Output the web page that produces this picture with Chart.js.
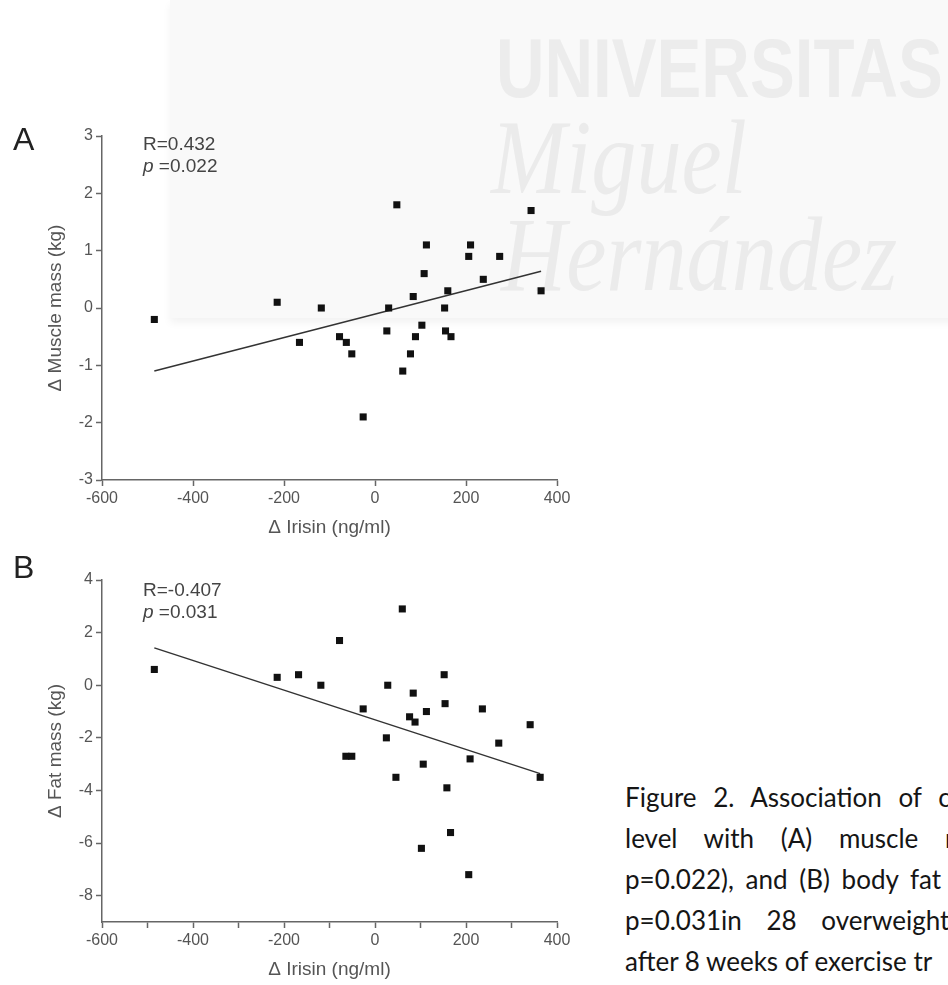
<!DOCTYPE html>
<html>
<head>
<meta charset="utf-8">
<script src="https://cdn.jsdelivr.net/npm/chart.js@4.4.1/dist/chart.umd.min.js"></script>
<style>
  html, body { margin: 0; padding: 0; background: #fff; }
  body { width: 948px; height: 985px; position: relative; overflow: hidden; font-family: 'Liberation Sans', Arial, sans-serif; }
  .abs { position: absolute; white-space: nowrap; }
  /* faint watermark behind the charts */
  .band { left: 170px; top: 0; width: 800px; height: 318px; background: #f9f9f9; box-shadow: 0 5px 8px rgba(0,0,0,0.05); }
  .wm-univ { left: 496px; top: 26px; font: bold 84px 'Liberation Sans', sans-serif; line-height: 1; color: #ececec; transform: scaleX(0.8); transform-origin: left top; }
  .wm-serif { font-family: 'Liberation Serif', serif; font-style: italic; font-size: 105px; line-height: 1; color: #ebebeb; transform: scaleX(0.86); transform-origin: left top; }
  .panel { position: absolute; left: 0; width: 600px; }
  .letter { font-size: 32px; line-height: 1; color: #222; }
  .stat { font-size: 19px; line-height: 22px; color: #444; }
  .caption { left: 625px; font-family: Lato, 'Open Sans', sans-serif; font-size: 26px; line-height: 41px; color: #151515; }
</style>
</head>
<body>
<div class="abs band"></div>
<div class="abs wm-univ">UNIVERSITAS</div>
<div class="abs wm-serif" style="left:491px; top:105px;">Miguel</div>
<div class="abs wm-serif" style="left:501px; top:202px;">Hernández</div>

<div class="panel" style="top:100px; height:443px;"><canvas id="chartA"></canvas></div>
<div class="panel" style="top:540px; height:445px;"><canvas id="chartB"></canvas></div>

<div class="abs letter" style="left:13px; top:123px;">A</div>
<div class="abs stat" style="left:143px; top:133px;">R=0.432<br><i>p</i> =0.022</div>
<div class="abs letter" style="left:13px; top:551px;">B</div>
<div class="abs stat" style="left:143px; top:579px;">R=-0.407<br><i>p</i> =0.031</div>

<div class="abs caption" style="top:777px;">
  <div style="word-spacing:10px;">Figure 2. Association of c</div>
  <div style="word-spacing:20px;">level with (A) muscle m</div>
  <div style="word-spacing:5px;">p=0.022), and (B) body fat</div>
  <div style="word-spacing:18px;">p=0.031in 28 overweight</div>
  <div>after 8 weeks of exercise tr</div>
</div>

<script>
// A: change in irisin vs change in muscle mass
const irisinA = [-485, -215, -166, -118, -78, -63, -51, -26, 26, 30, 48, 61, 78, 84,
                 89, 103, 108, 113, 153, 155, 160, 167, 206, 210, 238, 274, 343, 365];
const muscleA = [-0.2, 0.1, -0.6, 0.0, -0.5, -0.6, -0.8, -1.9, -0.4, 0.0, 1.8, -1.1, -0.8, 0.2,
                 -0.5, -0.3, 0.6, 1.1, 0.0, -0.4, 0.3, -0.5, 0.9, 1.1, 0.5, 0.9, 1.7, 0.3];
const fitXA = [-485, 365];
const fitYA = [-1.1, 0.64];

// B: change in irisin vs change in fat mass
const irisinB = [-485, -215, -168, -119, -78, -64, -51, -26, 25, 28, 46, 60, 76, 84,
                 88, 102, 106, 113, 152, 154, 158, 166, 206, 209, 236, 272, 341, 363];
const fatB = [0.6, 0.3, 0.4, 0.0, 1.7, -2.7, -2.7, -0.9, -2.0, 0.0, -3.5, 2.9, -1.2, -0.3,
              -1.4, -6.2, -3.0, -1.0, 0.4, -0.7, -3.9, -5.6, -7.2, -2.8, -0.9, -2.2, -1.5, -3.5];
const fitXB = [-485, 363];
const fitYB = [1.42, -3.36];

// tick values
const xTicksA = [-600, -400, -200, 0, 200, 400];
const yTicksA = [-3, -2, -1, 0, 1, 2, 3];
const xTicksB = [-600, -500, -400, -300, -200, -100, 0, 100, 200, 300, 400];
const xLabelsB = [-600, -400, -200, 0, 200, 400];
const yTicksB = [-8, -6, -4, -2, 0, 2, 4];

Chart.defaults.font.family = "'Liberation Sans', Arial, sans-serif";
Chart.defaults.color = '#555';

const toPoints = (xs, ys) => xs.map((x, i) => ({ x: x, y: ys[i] }));

function axis(tickValues, min, max, title, fitSize, labelFilter) {
    return {
        type: 'linear',
        min: min,
        max: max,
        afterBuildTicks: (scale) => { scale.ticks = tickValues.map(v => ({ value: v })); },
        afterFit: (scale) => {
            if (scale.isHorizontal()) scale.height = fitSize; else scale.width = fitSize;
        },
        ticks: {
            autoSkip: false,
            maxRotation: 0,
            padding: 3,
            color: '#555',
            font: { size: 16 },
            callback: (v) => (labelFilter && !labelFilter.includes(v)) ? '' : v
        },
        grid: { drawOnChartArea: false, drawTicks: true, tickLength: 6, color: '#666', tickWidth: 1.5 },
        border: { display: true, color: '#666', width: 1.5 },
        title: { display: true, text: title, color: '#555', font: { size: 19 }, padding: { top: 4, bottom: 4 } }
    };
}

function makeChart(id, xs, ys, fitX, fitY, xScale, yScale) {
    const ctx = document.getElementById(id).getContext('2d');
    return new Chart(ctx, {
        type: 'scatter',
        data: {
            datasets: [
                {
                    data: toPoints(xs, ys),
                    pointStyle: 'rect',
                    pointRadius: 5,
                    backgroundColor: '#111',
                    borderWidth: 0
                },
                {
                    data: toPoints(fitX, fitY),
                    showLine: true,
                    borderColor: '#333',
                    borderWidth: 1.5,
                    pointRadius: 0,
                    fill: false
                }
            ]
        },
        options: {
            responsive: true,
            maintainAspectRatio: false,
            animation: false,
            layout: { padding: { left: 40, top: id === 'chartA' ? 36 : 40, right: 43, bottom: 0 } },
            scales: { x: xScale, y: yScale },
            plugins: { legend: { display: false }, tooltip: { enabled: false } }
        }
    });
}

makeChart('chartA', irisinA, muscleA, fitXA, fitYA,
    axis(xTicksA, -600, 400, 'Δ Irisin (ng/ml)', 63),
    axis(yTicksA, -3, 3, 'Δ Muscle mass (kg)', 62));

makeChart('chartB', irisinB, fatB, fitXB, fitYB,
    axis(xTicksB, -600, 400, 'Δ Irisin (ng/ml)', 63, xLabelsB),
    axis(yTicksB, -9, 4, 'Δ Fat mass (kg)', 62));
</script>
</body>
</html>
